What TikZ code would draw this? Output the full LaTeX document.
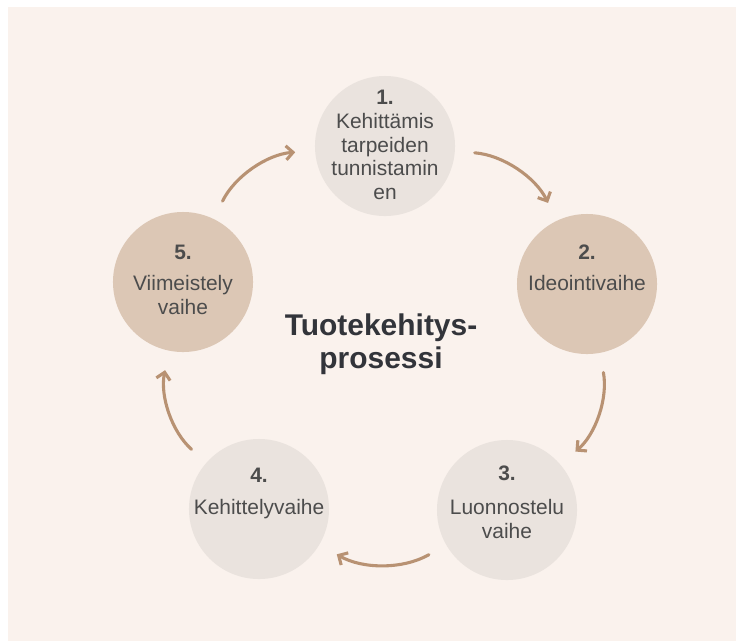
\documentclass[tikz,border=0pt]{standalone}
\usepackage{fontspec}
\setmainfont{Liberation Sans}
\usetikzlibrary{shapes,arrows.meta}
\definecolor{bgbeige}{RGB}{250,242,237}
\definecolor{phaselight}{RGB}{234,227,222}
\definecolor{phasetan}{RGB}{220,199,181}
\definecolor{arrowbrown}{RGB}{184,146,115}
\definecolor{txtgray}{RGB}{76,76,76}
\definecolor{titlegray}{RGB}{50,52,58}

\begin{document}
\begin{tikzpicture}[x=0.025cm,y=0.025cm]
\tikzstyle{every node}=[text=txtgray]
\tikzstyle{phase}=[circle,minimum size=3.5cm,inner sep=0pt]
\tikzstyle{phasetext}=[anchor=north,align=center,inner sep=0pt,font=\fontsize{14.9}{17}\selectfont]
\tikzstyle{cyc}=[draw=arrowbrown,line width=2.2pt,line cap=round,-{Straight Barb[length=5pt,width=10pt]},shorten <=14pt,shorten >=14pt,bend left=30]
\useasboundingbox (0,0) rectangle (736,-641);
\fill[bgbeige] (8,-7) rectangle (736,-641);
\node[phase,fill=phaselight] (c1) at (385,-146) {};
\node[phase,fill=phasetan] (c2) at (587,-284) {};
\node[phase,fill=phaselight] (c3) at (507,-510) {};
\node[phase,fill=phaselight] (c4) at (259,-509) {};
\node[phase,fill=phasetan] (c5) at (183,-282) {};
\node[phasetext] (t1) at (385,-89.5) {\textbf{1.}\\Kehittämis\\tarpeiden\\tunnistamin\\en};
\node[phasetext] (t2) at (587,-244.5) {\textbf{2.}\\[5pt]Ideointivaihe};
\node[phasetext] (t3) at (507,-465.5) {\textbf{3.}\\[7pt]Luonnostelu\\vaihe};
\node[phasetext] (t4) at (259,-467.5) {\textbf{4.}\\[6pt]Kehittelyvaihe};
\node[phasetext] (t5) at (183,-244.5) {\textbf{5.}\\[5pt]Viimeistely\\vaihe};
\node[font=\bfseries\fontsize{21.3}{23.5}\selectfont,text=titlegray,align=center] (title) at (381,-344) {Tuotekehitys-\\prosessi};
\draw[cyc] (c1) to (c2);
\draw[cyc] (c2) to (c3);
\draw[cyc] (c3) to (c4);
\draw[cyc] (c4) to (c5);
\draw[cyc] (c5) to (c1);
\end{tikzpicture}
\end{document}
